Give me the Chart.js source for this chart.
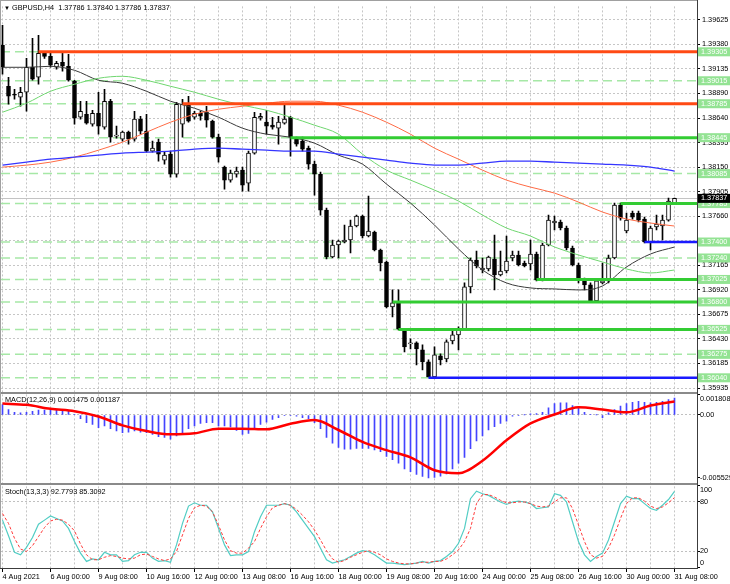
<!DOCTYPE html>
<html>
<head>
<meta charset="utf-8">
<script src="https://cdn.jsdelivr.net/npm/chart.js@4.4.1/dist/chart.umd.min.js"></script>
<style>
  html, body { margin: 0; padding: 0; background: #fff; }
  canvas { display: block; }
</style>
</head>
<body>
<canvas id="chart" width="730" height="584"></canvas>
<script>
// GBPUSD H4, 4 Aug 2021 16:00 .. 31 Aug 2021 08:00 (one entry per bar)
const symbol = 'GBPUSD,H4';
const tickLabels = ['4 Aug 2021', '6 Aug 00:00', '9 Aug 08:00', '10 Aug 16:00', '12 Aug 00:00',
  '13 Aug 08:00', '16 Aug 16:00', '18 Aug 00:00', '19 Aug 08:00', '20 Aug 16:00',
  '24 Aug 00:00', '25 Aug 08:00', '26 Aug 16:00', '30 Aug 00:00', '31 Aug 08:00'];
const LABEL_STEP = 8;   // bars between time labels
const GRID_STEP = 4;    // bars between vertical grid lines
const MA_STEP = 4;      // moving averages are read every 4 bars

const opens = [1.3937,1.3896,1.3888,1.3885,1.3890,1.3915,1.3905,1.3929,1.3926,1.3915,
  1.3920,1.3916,1.3901,1.3865,1.3868,1.3858,1.3869,1.3855,1.3881,1.3846,
  1.3843,1.3850,1.3843,1.3863,1.3851,1.3831,1.3840,1.3822,1.3828,1.3808,
  1.3858,1.3877,1.3865,1.3869,1.3870,1.3861,1.3845,1.3815,1.3802,1.3808,
  1.3812,1.3799,1.3829,1.3864,1.3860,1.3857,1.3854,1.3859,1.3865,1.3843,
  1.3841,1.3834,1.3818,1.3808,1.3772,1.3725,1.3737,1.3740,1.3742,1.3756,
  1.3766,1.3746,1.3750,1.3732,1.3720,1.3675,1.3679,1.3651,1.3638,1.3639,
  1.3632,1.3620,1.3605,1.3626,1.3623,1.3641,1.3647,1.3653,1.3695,1.3722,
  1.3712,1.3713,1.3723,1.3707,1.3711,1.3724,1.3727,1.3719,1.3718,1.3728,
  1.3702,1.3737,1.3759,1.3760,1.3754,1.3734,1.3717,1.3702,1.3697,1.3681,
  1.3699,1.3701,1.3724,1.3777,1.3751,1.3769,1.3769,1.3763,1.3740,1.3755,
  1.3756,1.3762,1.37786];
const highs = [1.3957,1.3905,1.3893,1.3895,1.3924,1.3944,1.3947,1.3931,1.3929,1.3921,
  1.3929,1.3928,1.3902,1.3881,1.3881,1.3872,1.3890,1.3893,1.3883,1.3856,
  1.3851,1.3851,1.3871,1.3866,1.3868,1.3841,1.3843,1.3830,1.3831,1.3880,
  1.3883,1.3886,1.3871,1.3871,1.3876,1.3862,1.3848,1.3816,1.3812,1.3815,
  1.3815,1.3831,1.3870,1.3869,1.3872,1.3865,1.3866,1.3877,1.3866,1.3845,
  1.3845,1.3836,1.3821,1.3810,1.3774,1.3742,1.3742,1.3757,1.3762,1.3767,
  1.3767,1.3786,1.3751,1.3733,1.3721,1.3692,1.3692,1.3652,1.3643,1.3640,
  1.3637,1.3622,1.3635,1.3628,1.3642,1.3653,1.3655,1.3699,1.3724,1.3731,
  1.3724,1.3726,1.3747,1.3731,1.3746,1.3731,1.3731,1.3721,1.3742,1.3730,
  1.3739,1.3767,1.3766,1.3762,1.3756,1.3736,1.3719,1.3704,1.3699,1.3702,
  1.3719,1.3727,1.3779,1.3779,1.3769,1.3771,1.3771,1.3765,1.3756,1.3767,
  1.3767,1.3784,1.37840];
const lows = [1.3908,1.3878,1.3883,1.3876,1.3871,1.3902,1.3898,1.3924,1.3915,1.3913,
  1.3911,1.3901,1.3858,1.3863,1.3858,1.3856,1.3848,1.3853,1.3840,1.3844,
  1.3841,1.3838,1.3841,1.3848,1.3830,1.3830,1.3821,1.3818,1.3805,1.3805,
  1.3845,1.3860,1.3863,1.3862,1.3855,1.3844,1.3820,1.3793,1.3800,1.3805,
  1.3791,1.3791,1.3828,1.3862,1.3848,1.3853,1.3838,1.3858,1.3826,1.3836,
  1.3831,1.3813,1.3787,1.3767,1.3723,1.3724,1.3724,1.3739,1.3729,1.3755,
  1.3744,1.3745,1.3731,1.3711,1.3674,1.3665,1.3652,1.3630,1.3633,1.3617,
  1.3612,1.3605,1.3604,1.3617,1.3620,1.3638,1.3632,1.3652,1.3689,1.3714,
  1.3709,1.3711,1.3692,1.3706,1.3709,1.3721,1.3716,1.3715,1.3712,1.3701,
  1.3701,1.3736,1.3752,1.3752,1.3732,1.3716,1.3699,1.3692,1.3680,1.3680,
  1.3698,1.3699,1.3723,1.3762,1.3749,1.3763,1.3760,1.3739,1.3732,1.3752,
  1.3742,1.3761,1.37786];
const closes = [1.3915,1.3886,1.3887,1.3890,1.3915,1.3903,1.3929,1.3926,1.3917,1.3919,
  1.3916,1.3902,1.3864,1.3871,1.3859,1.3869,1.3856,1.3881,1.3845,1.3847,
  1.3850,1.3843,1.3863,1.3851,1.3831,1.3834,1.3828,1.3827,1.3808,1.3878,
  1.3878,1.3861,1.3869,1.3866,1.3862,1.3845,1.3825,1.3802,1.3809,1.3811,
  1.3797,1.3829,1.3865,1.3866,1.3856,1.3855,1.3860,1.3863,1.3845,1.3838,
  1.3833,1.3818,1.3808,1.3772,1.3725,1.3737,1.3741,1.3742,1.3756,1.3766,
  1.3746,1.3751,1.3732,1.3719,1.3675,1.3679,1.3653,1.3635,1.3639,1.3633,
  1.3620,1.3605,1.3627,1.3622,1.3640,1.3647,1.3653,1.3695,1.3722,1.3716,
  1.3714,1.3725,1.3707,1.3711,1.3721,1.3727,1.3717,1.3716,1.3728,1.3702,
  1.3737,1.3762,1.3761,1.3754,1.3734,1.3717,1.3702,1.3697,1.3681,1.3701,
  1.3701,1.3724,1.3777,1.3764,1.3762,1.3765,1.3762,1.3740,1.3754,1.3758,
  1.3762,1.3781,1.37837];

// moving averages, one reading every MA_STEP bars
const maBlack = [1.3915,1.3915,1.3916,1.3912,1.3902,1.3899,1.3891,1.3881,1.3874,1.3865,
  1.3854,1.3848,1.3845,1.3839,1.3827,1.3818,1.3798,1.3779,1.3757,1.3733,
  1.3712,1.3699,1.3694,1.3693,1.3692,1.3696,1.3715,1.3728,1.3735];
const maGreen = [1.3870,1.3879,1.3891,1.3898,1.3904,1.3906,1.3902,1.3896,1.3890,1.3883,
  1.3877,1.3872,1.3865,1.3857,1.3848,1.3828,1.3812,1.3802,1.3792,1.3781,
  1.3767,1.3754,1.3746,1.3735,1.3727,1.3720,1.3713,1.3709,1.3712];
const maOrange = [1.3815,1.3817,1.3820,1.3825,1.3832,1.3840,1.3850,1.3860,1.3868,1.3873,
  1.3876,1.3879,1.3881,1.3881,1.3877,1.3870,1.3860,1.3848,1.3834,1.3823,
  1.3812,1.3802,1.3795,1.3789,1.3780,1.3770,1.3763,1.3759,1.3756];
const maBlue = [1.3817,1.3820,1.3823,1.3825,1.3827,1.3829,1.3830,1.3831,1.3833,1.3834,
  1.3833,1.3832,1.3831,1.3831,1.3828,1.3825,1.3822,1.3819,1.3817,1.3817,
  1.3819,1.3821,1.3821,1.3820,1.3819,1.3818,1.3817,1.3815,1.3811];

// horizontal levels; start = bar where the solid line begins (null = dashed only)
const levels     = [1.39305, 1.39015, 1.38785, 1.38445, 1.38085, 1.37785, 1.37400, 1.37240, 1.37025, 1.36800, 1.36525, 1.36275, 1.36040];
const levelStart = [6, null, 30, 48, null, 103, 107, null, 89, 65, 66, null, 71];
const levelKind  = ['res', '', 'res', 'sup', '', 'sup', 'low', '', 'sup', 'sup', 'sup', '', 'low'];
const priceTicks = [1.39625, 1.39380, 1.39135, 1.38890, 1.38640, 1.38395, 1.38150, 1.37905,
  1.37660, 1.37415, 1.37165, 1.36920, 1.36675, 1.36430, 1.36185, 1.35935];

// MACD(12,26,9)
const macdHist = [0.00091,0.00048,0.00024,0.00019,0.00024,0.00033,0.00042,0.00042,0.00042,0.00042,
  0.00042,0.00033,0.00005,-0.00033,-0.00068,-0.00083,-0.00111,-0.00097,-0.00120,-0.00141,
  -0.00155,-0.00150,-0.00141,-0.00150,-0.00155,-0.00170,-0.00190,-0.00198,-0.00213,-0.00184,
  -0.00155,-0.00120,-0.00097,-0.00074,-0.00068,-0.00068,-0.00097,-0.00097,-0.00106,-0.00135,
  -0.00170,-0.00161,-0.00111,-0.00083,-0.00063,-0.00039,-0.00024,-0.00004,-0.00004,-0.00010,
  -0.00024,-0.00033,-0.00068,-0.00120,-0.00198,-0.00248,-0.00285,-0.00300,-0.00300,-0.00294,
  -0.00294,-0.00294,-0.00306,-0.00323,-0.00363,-0.00393,-0.00422,-0.00474,-0.00497,-0.00522,
  -0.00540,-0.00553,-0.00548,-0.00537,-0.00517,-0.00474,-0.00422,-0.00372,-0.00296,-0.00228,
  -0.00184,-0.00132,-0.00103,-0.00074,-0.00054,-0.00010,-0.00004,0.00001,0.00010,0.00013,
  0.00024,0.00063,0.00100,0.00106,0.00106,0.00083,0.00063,0.00024,0.00002,0.00001,
  -0.00024,0.00019,0.00048,0.00077,0.00100,0.00111,0.00120,0.00111,0.00106,0.00111,
  0.00120,0.00135,0.001475];
const macdSignal = [0.00100,0.00089,0.00054,0.00033,-0.00013,-0.00091,-0.00141,-0.00170,-0.00161,-0.00120,
  -0.00120,-0.00126,-0.00077,-0.00045,-0.00132,-0.00237,-0.00309,-0.00372,-0.00485,-0.00511,
  -0.00402,-0.00222,-0.00074,0.00004,0.00068,0.00048,0.00024,0.00083,0.001187];
const macdTicks = [0.001808, 0, -0.005529];

// Stochastic(13,3,3)
const stochMain = [58,39,19,16,25,37,53,58,63,60,
  57,48,32,18,8,11,10,19,16,16,
  8,9,16,19,19,12,8,9,7,28,
  54,75,79,76,76,68,48,28,15,16,
  16,20,44,62,76,76,76,78,76,68,
  58,48,38,24,10,6,8,10,14,18,
  21,20,16,11,6,6,5,4,5,6,
  8,6,8,9,14,20,30,48,84,93,
  90,88,84,80,77,80,81,80,78,72,
  73,74,90,88,80,56,32,16,8,14,
  18,34,56,78,87,84,84,78,72,70,
  76,83,92.7793];
const stochSignal = [66,54,36,23,20,27,38,49,57,59,
  58,53,45,29,16,10,10,13,15,14,
  12,11,12,16,17,14,11,9,11,20,
  40,60,73,76,75,68,52,34,21,18,
  18,24,32,48,62,73,76,78,76,71,
  64,56,46,34,21,11,7,9,13,16,
  19,21,19,16,11,8,6,5,5,6,
  7,7,8,8,11,16,22,32,48,78,
  89,89,86,82,79,79,80,80,78,75,
  74,75,80,85,85,72,52,32,16,12,
  14,24,40,60,78,85,85,81,75,72,
  74,79,85.3092];
const stochTicks = [100, 80, 20, 0];

const FONT = "'Liberation Sans', 'DejaVu Sans', sans-serif";
const FSIZE = 7.3;
const X_MIN = -0.25, X_MAX = 115.75;
const last = closes.length - 1;

Chart.defaults.font.family = FONT;
Chart.defaults.font.size = FSIZE;
Chart.defaults.color = '#000';

const byBar = arr => arr.map((v, i) => ({x: i, y: v}));
const bySample = arr => arr.map((v, i) => ({x: i * MA_STEP, y: v}));
const kindColor = {res: '#ff4a14', sup: '#33cc33', low: '#1a1aff'};

const datasets = [];
levels.forEach(lv => {
  datasets.push({type: 'line', yAxisID: 'y', data: [{x: X_MIN, y: lv}, {x: X_MAX, y: lv}],
    borderColor: '#a6e8a6', borderWidth: 1.5, borderDash: [9, 5], pointRadius: 0, order: 8});
});
datasets.push({type: 'bar', yAxisID: 'y', grouped: false, order: 7,
  data: closes.map((c, i) => ({x: i, y: [lows[i], highs[i]]})),
  backgroundColor: '#000', barThickness: 1});
datasets.push({type: 'bar', yAxisID: 'y', grouped: false, order: 6,
  data: closes.map((c, i) => ({x: i, y: [opens[i], c]})),
  backgroundColor: closes.map((c, i) => c >= opens[i] ? '#fff' : '#000'),
  borderColor: '#000', borderWidth: 1, borderSkipped: false, barThickness: 4, minBarLength: 1});
[[maBlue, '#3535ff', 1.3], [maOrange, '#ff6b45', 1], [maGreen, '#6fd66f', 1], [maBlack, '#3a3a3a', 1]].forEach(([arr, col, w]) => {
  datasets.push({type: 'line', yAxisID: 'y', data: bySample(arr), borderColor: col, borderWidth: w,
    pointRadius: 0, cubicInterpolationMode: 'monotone', order: 4});
});
levels.forEach((lv, k) => {
  if (levelStart[k] === null) return;
  datasets.push({type: 'line', yAxisID: 'y', data: [{x: levelStart[k], y: lv}, {x: X_MAX, y: lv}],
    borderColor: kindColor[levelKind[k]], borderWidth: levelKind[k] === 'low' ? 2.5 : 3, pointRadius: 0, order: 2});
});
datasets.push({type: 'bar', yAxisID: 'macd', grouped: false, order: 3,
  data: byBar(macdHist), backgroundColor: '#4444ff', barThickness: 1});
datasets.push({type: 'line', yAxisID: 'macd', data: bySample(macdSignal), borderColor: '#ff0000',
  borderWidth: 2.5, pointRadius: 0, cubicInterpolationMode: 'monotone', order: 1});
datasets.push({type: 'line', yAxisID: 'stoch', data: byBar(stochMain), borderColor: '#52cdc4',
  borderWidth: 1.2, pointRadius: 0, tension: 0, order: 1});
datasets.push({type: 'line', yAxisID: 'stoch', data: byBar(stochSignal), borderColor: '#ff3b3b',
  borderWidth: 1, borderDash: [3, 2], pointRadius: 0, tension: 0, order: 0});

const yGrid = {color: '#c6c6c6', tickLength: 3, tickColor: '#000'};
const fixW = s => { s.width = 33; };

const mt4Frame = {
  id: 'mt4Frame',
  beforeDatasetsDraw(chart) {
    const {ctx, chartArea: a, scales} = chart;
    const py = Math.round(scales.y.getPixelForValue(closes[last])) + 0.5;
    ctx.save();
    ctx.strokeStyle = '#c4c4c4';
    ctx.lineWidth = 1;
    ctx.beginPath(); ctx.moveTo(a.left, py); ctx.lineTo(a.right, py); ctx.stroke();
    ctx.restore();
  },
  afterDraw(chart) {
    const {ctx, chartArea: a, scales} = chart;
    ctx.save();
    // frames and panel separators
    ctx.fillStyle = '#8a8a8a';
    [scales.y.bottom, scales.macd.bottom].forEach(b => ctx.fillRect(0, Math.round(b) - 1, a.right, 2));
    ctx.fillStyle = '#a0a0a0';
    ctx.fillRect(0, 0, a.right, 1);
    ctx.fillRect(0, 0, 1, a.bottom);
    ctx.fillStyle = '#3c3c3c';
    ctx.fillRect(a.right, 0, 1, a.bottom + 1);
    ctx.fillRect(0, a.bottom, a.right, 1);

    ctx.textBaseline = 'middle';
    ctx.textAlign = 'left';
    ctx.fillStyle = '#000';
    // panel titles
    ctx.font = '6px ' + FONT;
    ctx.fillText('\u25BC', 4, 8);
    ctx.font = FSIZE + 'px ' + FONT;
    ctx.fillText(symbol + '  ' + [opens[last], highs[last], lows[last], closes[last]].map(v => v.toFixed(5)).join(' '), 12, 8);
    ctx.fillText('MACD(12,26,9) ' + macdHist[last].toFixed(6) + ' ' + macdSignal[macdSignal.length - 1].toFixed(6), 5, scales.macd.top + 7);
    ctx.fillText('Stoch(13,3,3) ' + stochMain[last].toFixed(4) + ' ' + stochSignal[last].toFixed(4), 5, scales.stoch.top + 8);

    // sub-window axis labels, kept inside their panel
    const sideLabels = (scale, vals, fmt) => vals.forEach(v => {
      let py = scale.getPixelForValue(v);
      py = Math.min(Math.max(py, scale.top + 6), scale.bottom - 5);
      ctx.fillText(fmt(v), a.right + 3, py);
    });
    sideLabels(scales.macd, macdTicks, v => v === 0 ? '0.00' : v.toFixed(6));
    sideLabels(scales.stoch, stochTicks, v => String(v));

    // level price boxes
    levels.forEach(lv => {
      const py = scales.y.getPixelForValue(lv);
      ctx.fillStyle = '#93e393';
      ctx.fillRect(a.right + 1, py - 4.5, 32, 9);
      ctx.fillStyle = '#ffffff';
      ctx.fillText(lv.toFixed(5), a.right + 4, py);
    });
    // current price box
    const cy = scales.y.getPixelForValue(closes[last]);
    ctx.fillStyle = '#000';
    ctx.fillRect(a.right + 1, cy - 4.5, 32, 9);
    ctx.fillStyle = '#fff';
    ctx.fillText(closes[last].toFixed(5), a.right + 4, cy);
    ctx.restore();
  }
};

new Chart('chart', {
  type: 'bar',
  data: {datasets},
  plugins: [mt4Frame],
  options: {
    responsive: false,
    animation: false,
    devicePixelRatio: 1,
    layout: {padding: {top: 1, left: 1, right: 0, bottom: 0}},
    plugins: {legend: {display: false}, tooltip: {enabled: false}},
    scales: {
      x: {
        type: 'linear', position: 'bottom', min: X_MIN, max: X_MAX, offset: false,
        afterBuildTicks: s => {
          const t = [];
          for (let i = 0; i <= last; i += GRID_STEP) t.push({value: i});
          s.ticks = t;
        },
        afterFit: s => { s.height = 16; },
        grid: {color: '#c6c6c6', tickLength: 4, offset: false,
          tickColor: c => (c.tick && c.tick.value % LABEL_STEP === 0) ? '#000' : 'rgba(0,0,0,0)'},
        border: {display: false, dash: [2, 2]},
        ticks: {autoSkip: false, maxRotation: 0, align: 'start', padding: 1,
          callback: v => v % LABEL_STEP === 0 ? tickLabels[v / LABEL_STEP] : ''}
      },
      y: {
        type: 'linear', position: 'right', stack: 'panes', stackWeight: 390,
        min: 1.35891, max: 1.39760,
        afterBuildTicks: s => { s.ticks = priceTicks.map(v => ({value: v})); },
        afterFit: fixW,
        grid: yGrid,
        border: {display: false, dash: [2, 2]},
        ticks: {autoSkip: false, padding: 2, callback: v => v.toFixed(5)}
      },
      macd: {
        type: 'linear', position: 'right', stack: 'panes', stackWeight: 92,
        min: -0.006042, max: 0.001956,
        afterBuildTicks: s => { s.ticks = macdTicks.map(v => ({value: v})); },
        afterFit: fixW,
        grid: {color: c => (c.tick && c.tick.value === 0) ? '#c0c0c0' : 'rgba(0,0,0,0)', tickLength: 3, tickColor: '#000'},
        border: {display: false, dash: [2, 2]},
        ticks: {display: false}
      },
      stoch: {
        type: 'linear', position: 'right', stack: 'panes', stackWeight: 85,
        min: 0, max: 102,
        afterBuildTicks: s => { s.ticks = stochTicks.map(v => ({value: v})); },
        afterFit: fixW,
        grid: {color: c => (c.tick && (c.tick.value === 80 || c.tick.value === 20)) ? '#c0c0c0' : 'rgba(0,0,0,0)', tickLength: 3, tickColor: '#000'},
        border: {display: false, dash: [2, 2]},
        ticks: {display: false}
      }
    }
  }
});
</script>
</body>
</html>
